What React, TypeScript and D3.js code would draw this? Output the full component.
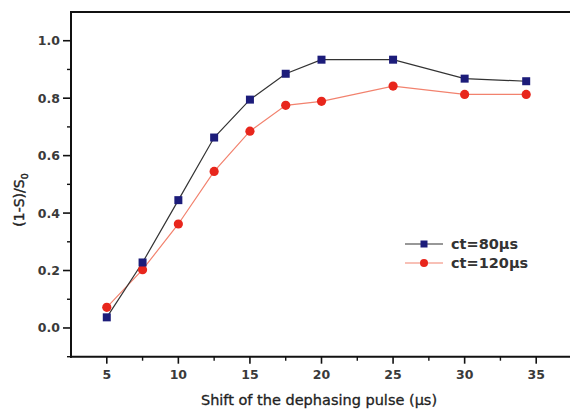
import React from "react";
import * as d3 from "d3";

const xValues = [5, 7.5, 10, 12.5, 15, 17.5, 20, 25, 30, 34.3];
const series80 = [0.037, 0.228, 0.445, 0.663, 0.795, 0.885, 0.934, 0.934, 0.868, 0.859];
const series120 = [0.072, 0.203, 0.362, 0.545, 0.685, 0.775, 0.789, 0.842, 0.813, 0.813];
const xTicks = [5, 10, 15, 20, 25, 30, 35];
const xMinorTicks = [7.5, 12.5, 17.5, 22.5, 27.5, 32.5];
const yTicks = [0, 0.2, 0.4, 0.6, 0.8, 1.0];
const yMinorTicks = [-0.1, 0.1, 0.3, 0.5, 0.7, 0.9];
const legendLabels = ["ct=80\u03bcs", "ct=120\u03bcs"];

const W = 570;
const H = 409;
const L = 71, R = 572, T = 12, B = 356.7;

export default function App() {
  const x = d3.scaleLinear().domain([2.5, 37.5]).range([L, R]);
  const y = d3.scaleLinear().domain([-0.1, 1.1]).range([B, T]);
  const line = d3
    .line<[number, number]>()
    .x((d) => x(d[0]))
    .y((d) => y(d[1]));
  const d80 = xValues.map((v, i) => [v, series80[i]] as [number, number]);
  const d120 = xValues.map((v, i) => [v, series120[i]] as [number, number]);
  const font = "'DejaVu Sans', Verdana, sans-serif";
  const navy = "#1c1c7a";
  const red = "#e8261c";
  const salmon = "#f2826e";
  const sq = 8;

  return (
    <svg
      width={W}
      height={H}
      style={{ position: "absolute", left: 0, top: 0, background: "#fff" }}
      fontFamily={font}
    >
      {/* axes frame */}
      <line x1={L} x2={R} y1={T} y2={T} stroke="#111" strokeWidth={2} />
      <line x1={L} x2={L} y1={T - 1} y2={B + 1} stroke="#111" strokeWidth={2} />
      <line x1={L - 1} x2={R} y1={B} y2={B} stroke="#111" strokeWidth={2} />

      {/* y ticks */}
      {yTicks.map((t) => (
        <g key={"y" + t}>
          <line x1={L - 8} x2={L} y1={y(t)} y2={y(t)} stroke="#111" strokeWidth={1.6} />
          <text
            x={L - 11}
            y={y(t)}
            dy="0.36em"
            textAnchor="end"
            fontSize={12.5}
            fontWeight="bold"
            fill="#3a3a3a"
          >
            {t.toFixed(1)}
          </text>
        </g>
      ))}
      {yMinorTicks.map((t) => (
        <line key={"ym" + t} x1={L - 4} x2={L} y1={y(t)} y2={y(t)} stroke="#111" strokeWidth={1.4} />
      ))}

      {/* x ticks */}
      {xTicks.map((t) => (
        <g key={"x" + t}>
          <line x1={x(t)} x2={x(t)} y1={B} y2={B + 7} stroke="#111" strokeWidth={1.6} />
          <text
            x={x(t)}
            y={B + 22}
            textAnchor="middle"
            fontSize={12.5}
            fontWeight="bold"
            fill="#3a3a3a"
          >
            {t}
          </text>
        </g>
      ))}
      {xMinorTicks.map((t) => (
        <line key={"xm" + t} x1={x(t)} x2={x(t)} y1={B} y2={B + 4} stroke="#111" strokeWidth={1.4} />
      ))}

      {/* axis titles */}
      <text
        x={319}
        y={405}
        textAnchor="middle"
        fontSize={14.5}
        fill="#222"
        stroke="#222"
        strokeWidth={0.3}
      >
        Shift of the dephasing pulse (μs)
      </text>
      <text
        transform={`translate(24, ${200}) rotate(-90)`}
        textAnchor="middle"
        fontSize={14}
        fill="#222"
        stroke="#222"
        strokeWidth={0.4}
      >
        (1-S)/S
        <tspan fontSize={9.5} dy="4">0</tspan>
      </text>

      {/* series lines */}
      <path d={line(d120) || ""} fill="none" stroke={salmon} strokeWidth={1.2} />
      <path d={line(d80) || ""} fill="none" stroke="#333" strokeWidth={1.2} />

      {/* markers */}
      {d120.map((p, i) => (
        <circle key={"c" + i} cx={x(p[0])} cy={y(p[1])} r={4.6} fill={red} />
      ))}
      {d80.map((p, i) => (
        <rect
          key={"s" + i}
          x={x(p[0]) - sq / 2}
          y={y(p[1]) - sq / 2}
          width={sq}
          height={sq}
          fill={navy}
        />
      ))}

      {/* legend */}
      <g>
        <line x1={405} x2={443} y1={244} y2={244} stroke="#333" strokeWidth={1.2} />
        <rect x={424 - 3.5} y={244 - 3.5} width={7} height={7} fill={navy} />
        <text x={451} y={244} dy="0.36em" fontSize={14.5} fontWeight="bold" fill="#333">
          {legendLabels[0]}
        </text>
        <line x1={405} x2={443} y1={263} y2={263} stroke={salmon} strokeWidth={1.2} />
        <circle cx={424} cy={263} r={4} fill={red} />
        <text x={451} y={263} dy="0.36em" fontSize={14.5} fontWeight="bold" fill="#333">
          {legendLabels[1]}
        </text>
      </g>
    </svg>
  );
}
